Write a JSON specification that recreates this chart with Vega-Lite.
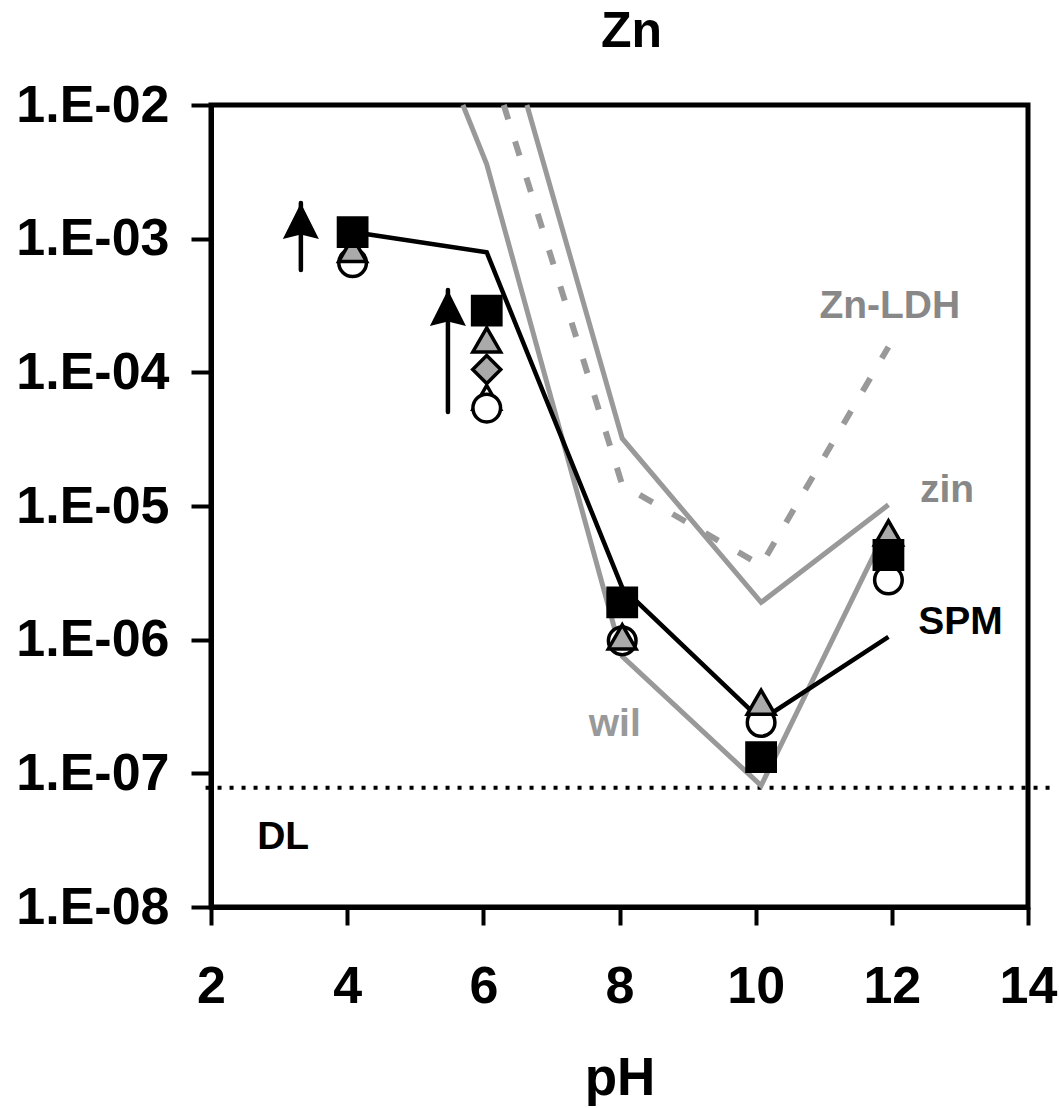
{
  "$schema": "https://vega.github.io/schema/vega-lite/v6.json",
  "width": 817,
  "height": 802,
  "autosize": "none",
  "padding": {"left": 211, "top": 105, "right": 31, "bottom": 201},
  "background": "white",
  "title": {"text": "Zn", "font": "Liberation Sans", "fontSize": 50, "fontWeight": "bold", "color": "black", "offset": -28, "dx": 12, "baseline": "bottom"},
  "config": {
    "view": {"stroke": "black", "strokeWidth": 5},
    "axis": {"grid": false, "domainColor": "black", "domainWidth": 5, "tickColor": "black", "tickWidth": 4, "labelColor": "black", "titleColor": "black", "labelFont": "Liberation Sans", "labelFontWeight": "bold", "titleFont": "Liberation Sans", "titleFontWeight": "bold"}
  },
  "datasets": {
    "lines": [
      {"series": "wil", "pH": 5.7, "c": 0.01},
      {"series": "wil", "pH": 6.05, "c": 0.0036},
      {"series": "wil", "pH": 8.04, "c": 7.5e-7},
      {"series": "wil", "pH": 10.08, "c": 8.1e-8},
      {"series": "wil", "pH": 11.95, "c": 7.2e-6},
      {"series": "zin", "pH": 6.64, "c": 0.01},
      {"series": "zin", "pH": 8.04, "c": 3.2e-5},
      {"series": "zin", "pH": 10.08, "c": 1.9e-6},
      {"series": "zin", "pH": 11.95, "c": 1.02e-5},
      {"series": "Zn-LDH", "pH": 6.3, "c": 0.01},
      {"series": "Zn-LDH", "pH": 8.04, "c": 1.44e-5},
      {"series": "Zn-LDH", "pH": 10.08, "c": 3.6e-6},
      {"series": "Zn-LDH", "pH": 11.95, "c": 1.55e-4},
      {"series": "SPM", "pH": 4.08, "c": 1.12e-3},
      {"series": "SPM", "pH": 6.05, "c": 7.9e-4},
      {"series": "SPM", "pH": 8.04, "c": 2.45e-6},
      {"series": "SPM", "pH": 10.08, "c": 2.5e-7},
      {"series": "SPM", "pH": 11.95, "c": 1.05e-6}
    ],
    "markers": [
      {"sym": "open triangle", "pH": 6.05, "c": 6.5e-5},
      {"sym": "circle", "pH": 4.08, "c": 6.6e-4},
      {"sym": "circle", "pH": 6.05, "c": 5.4e-5},
      {"sym": "circle", "pH": 8.04, "c": 9.8e-7},
      {"sym": "circle", "pH": 10.08, "c": 2.4e-7},
      {"sym": "circle", "pH": 11.95, "c": 2.8e-6},
      {"sym": "triangle", "pH": 4.08, "c": 8.3e-4},
      {"sym": "triangle", "pH": 6.05, "c": 1.75e-4},
      {"sym": "triangle", "pH": 8.04, "c": 1.05e-6},
      {"sym": "triangle", "pH": 10.08, "c": 3.4e-7},
      {"sym": "triangle", "pH": 11.95, "c": 6.3e-6},
      {"sym": "diamond", "pH": 6.05, "c": 1.05e-4},
      {"sym": "square", "pH": 4.08, "c": 1.12e-3},
      {"sym": "square", "pH": 6.05, "c": 2.9e-4},
      {"sym": "square", "pH": 8.04, "c": 1.9e-6},
      {"sym": "square", "pH": 10.08, "c": 1.32e-7},
      {"sym": "square", "pH": 11.95, "c": 4.3e-6}
    ],
    "arrows": [
      {"pH": 3.32, "lo": 5.83e-4, "hi": 1.85e-3},
      {"pH": 5.48, "lo": 5.06e-5, "hi": 4.13e-4}
    ],
    "dl": [
      {"pH": 1.92, "c": 7.8e-8},
      {"pH": 14.4, "c": 7.8e-8}
    ],
    "labels": [
      {"label": "Zn-LDH", "pH": 11.97, "c": 2.55e-4},
      {"label": "zin", "pH": 12.81, "c": 1.07e-5},
      {"label": "SPM", "pH": 13.01, "c": 1.1e-6},
      {"label": "wil", "pH": 7.93, "c": 1.9e-7},
      {"label": "DL", "pH": 3.06, "c": 2.7e-8}
    ]
  },
  "encoding": {
    "x": {"field": "pH", "type": "quantitative", "scale": {"domain": [2, 14], "nice": false, "zero": false},
      "axis": {"values": [2, 4, 6, 8, 10, 12, 14], "title": "pH", "labelFontSize": 52, "titleFontSize": 53, "tickSize": 18, "labelPadding": 36, "titlePadding": 40, "labelFlush": false}},
    "y": {"field": "c", "type": "quantitative", "scale": {"type": "log", "domain": [1e-8, 0.01], "nice": false},
      "axis": {"values": [1e-8, 1e-7, 1e-6, 1e-5, 1e-4, 1e-3, 1e-2], "title": null, "labelFontSize": 52, "tickSize": 20, "labelPadding": 22, "labelFlush": false,
        "labelExpr": "'1.E-0' + round(-log(datum.value)/LN10)"}}
  },
  "layer": [
    {
      "data": {"name": "dl"},
      "mark": {"type": "line", "color": "black", "strokeWidth": 4, "strokeDash": [4, 8], "clip": false}
    },
    {
      "data": {"name": "lines"},
      "transform": [{"filter": "datum.series === 'wil'"}],
      "mark": {"type": "line", "color": "#999999", "strokeWidth": 5}
    },
    {
      "data": {"name": "lines"},
      "transform": [{"filter": "datum.series === 'zin'"}],
      "mark": {"type": "line", "color": "#999999", "strokeWidth": 5}
    },
    {
      "data": {"name": "lines"},
      "transform": [{"filter": "datum.series === 'Zn-LDH'"}],
      "mark": {"type": "line", "color": "#999999", "strokeWidth": 6, "strokeDash": [15, 23]}
    },
    {
      "data": {"name": "lines"},
      "transform": [{"filter": "datum.series === 'SPM'"}],
      "mark": {"type": "line", "color": "black", "strokeWidth": 4.5}
    },
    {
      "data": {"name": "arrows"},
      "mark": {"type": "rule", "color": "black", "strokeWidth": 4.5, "strokeCap": "round"},
      "encoding": {"y": {"field": "lo", "type": "quantitative"}, "y2": {"field": "hi"}}
    },
    {
      "data": {"name": "arrows"},
      "mark": {"type": "point", "shape": "M0,-1L1,1L0,0.75L-1,1Z", "filled": true, "color": "black", "size": 1300, "yOffset": 18, "opacity": 1},
      "encoding": {"y": {"field": "hi", "type": "quantitative"}}
    },
    {
      "data": {"name": "markers"},
      "mark": {"type": "point", "filled": true, "opacity": 1, "stroke": "black", "strokeWidth": 3.5},
      "encoding": {
        "shape": {"field": "sym", "type": "nominal", "legend": null,
          "scale": {"domain": ["open triangle", "circle", "triangle", "diamond", "square"], "range": ["triangle-up", "circle", "triangle-up", "diamond", "square"]}},
        "fill": {"field": "sym", "type": "nominal", "legend": null,
          "scale": {"domain": ["open triangle", "circle", "triangle", "diamond", "square"], "range": ["white", "white", "#aaaaaa", "#aaaaaa", "black"]}},
        "size": {"field": "sym", "type": "nominal", "legend": null,
          "scale": {"domain": ["open triangle", "circle", "triangle", "diamond", "square"], "range": [750, 800, 850, 800, 850]}}
      }
    },
    {
      "data": {"name": "labels"},
      "mark": {"type": "text", "font": "Liberation Sans", "fontWeight": "bold", "fontSize": 39, "align": "center", "baseline": "alphabetic"},
      "encoding": {
        "text": {"field": "label"},
        "color": {"field": "label", "type": "nominal", "legend": null,
          "scale": {"domain": ["Zn-LDH", "zin", "SPM", "wil", "DL"], "range": ["#888888", "#888888", "black", "#999999", "black"]}}
      }
    }
  ]
}
